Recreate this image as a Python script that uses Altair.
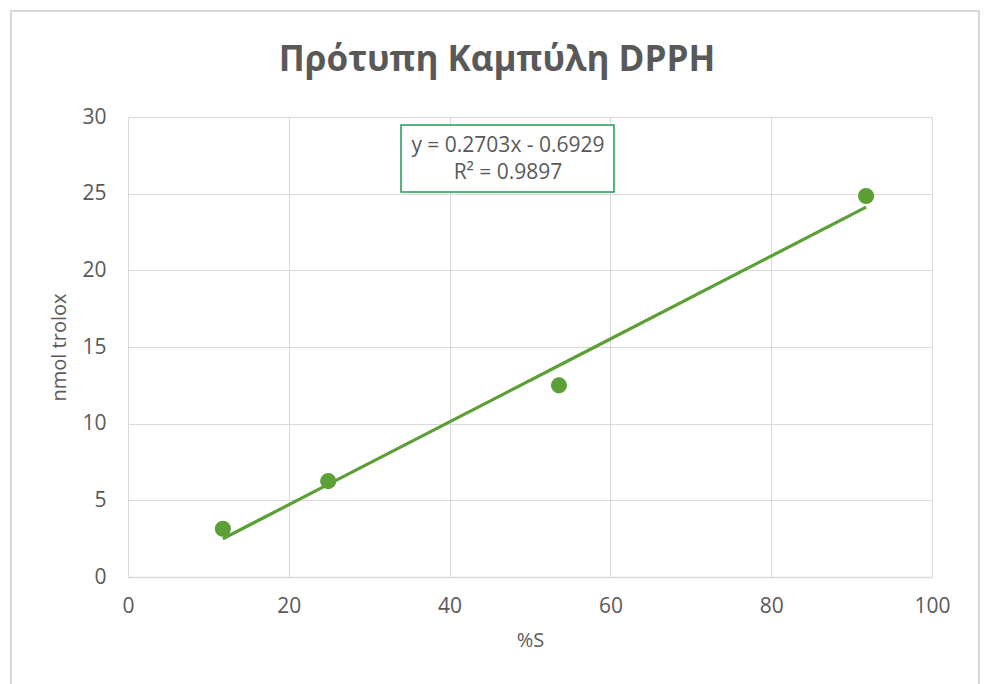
import altair as alt
import pandas as pd

# Data
pct_s = [11.8, 24.9, 53.6, 91.8]
nmol_trolox = [3.15, 6.25, 12.5, 24.85]
slope = 0.2703
intercept = -0.6929
equation_lines = ["y = 0.2703x - 0.6929", "R² = 0.9897"]
x_ticks = [0, 20, 40, 60, 80, 100]
y_ticks = [0, 5, 10, 15, 20, 25, 30]

df = pd.DataFrame({"x": pct_s, "y": nmol_trolox})

PL, PT = 128, 117
W, H = 804, 460
GRAY = "#595959"
GREEN = "#5b9f36"
FONT = "Open Sans"

xs = alt.Scale(domain=[0, 100], nice=False, zero=True)
ys = alt.Scale(domain=[0, 30], nice=False, zero=True)

base = alt.Chart(df)

points = base.mark_circle(size=260, color=GREEN, opacity=1).encode(
    x=alt.X("x:Q", scale=xs,
            axis=alt.Axis(values=x_ticks, title="%S", grid=True, gridColor="#d9d9d9",
                          domain=True, domainColor="#d9d9d9", domainWidth=1.5, ticks=False,
                          labelFlush=False, labelOverlap=False,
                          labelPadding=18, labelFontSize=21, labelColor=GRAY, labelFont=FONT,
                          titleFontSize=20, titleColor=GRAY, titleFont=FONT,
                          titleFontWeight="normal", titlePadding=14)),
    y=alt.Y("y:Q", scale=ys,
            axis=alt.Axis(values=y_ticks, title="nmol trolox", grid=True, gridColor="#d9d9d9",
                          domain=False, ticks=False, labelPadding=22,
                          labelFlush=False, labelOverlap=False,
                          labelFontSize=21, labelColor=GRAY, labelFont=FONT,
                          titleFontSize=20, titleColor=GRAY, titleFont=FONT,
                          titleFontWeight="normal", titlePadding=12)),
)

trend = base.transform_calculate(
    fit=f"{slope} * datum.x + ({intercept})"
).mark_line(color=GREEN, strokeWidth=3.2).encode(
    x=alt.X("x:Q", scale=xs),
    y=alt.Y("fit:Q", scale=ys),
)

box = alt.Chart(pd.DataFrame({"a": [0]})).mark_rect(
    fill="white", stroke="#1e9a56", strokeWidth=1.5
).encode(
    x=alt.value(401 - PL), x2=alt.value(614 - PL),
    y=alt.value(125 - PT), y2=alt.value(192 - PT),
)

eq1 = alt.Chart(pd.DataFrame({"t": [equation_lines[0]]})).mark_text(
    fontSize=21, color=GRAY, font=FONT, align="center", baseline="middle"
).encode(x=alt.value(508 - PL), y=alt.value(146 - PT), text="t:N")

eq2 = alt.Chart(pd.DataFrame({"t": [equation_lines[1]]})).mark_text(
    fontSize=21, color=GRAY, font=FONT, align="center", baseline="middle"
).encode(x=alt.value(508 - PL), y=alt.value(173 - PT), text="t:N")

border = alt.Chart(pd.DataFrame({"a": [0]})).mark_rect(
    fill=None, stroke="#d9d9d9", strokeWidth=2, clip=False
).encode(
    x=alt.value(11 - PL), x2=alt.value(979 - PL),
    y=alt.value(11 - PT), y2=alt.value(700 - PT),
)

title = alt.Chart(pd.DataFrame({"t": ["Πρότυπη Καμπύλη DPPH"]})).mark_text(
    fontSize=35, fontWeight="bold", color=GRAY, font=FONT, align="center", baseline="middle",
    clip=False
).encode(
    x=alt.value(497 - PL), y=alt.value(60 - PT), text="t:N"
)

chart = alt.layer(border, trend, points, box, eq1, eq2, title).properties(
    width=W, height=H,
    autosize=alt.AutoSizeParams(type="none"),
    padding={"left": PL, "top": PT, "right": 984 - PL - W, "bottom": 684 - PT - H},
    background="white",
).configure_view(stroke=None)

chart.save("out.html", embed_options={"renderer": "svg", "actions": False})
